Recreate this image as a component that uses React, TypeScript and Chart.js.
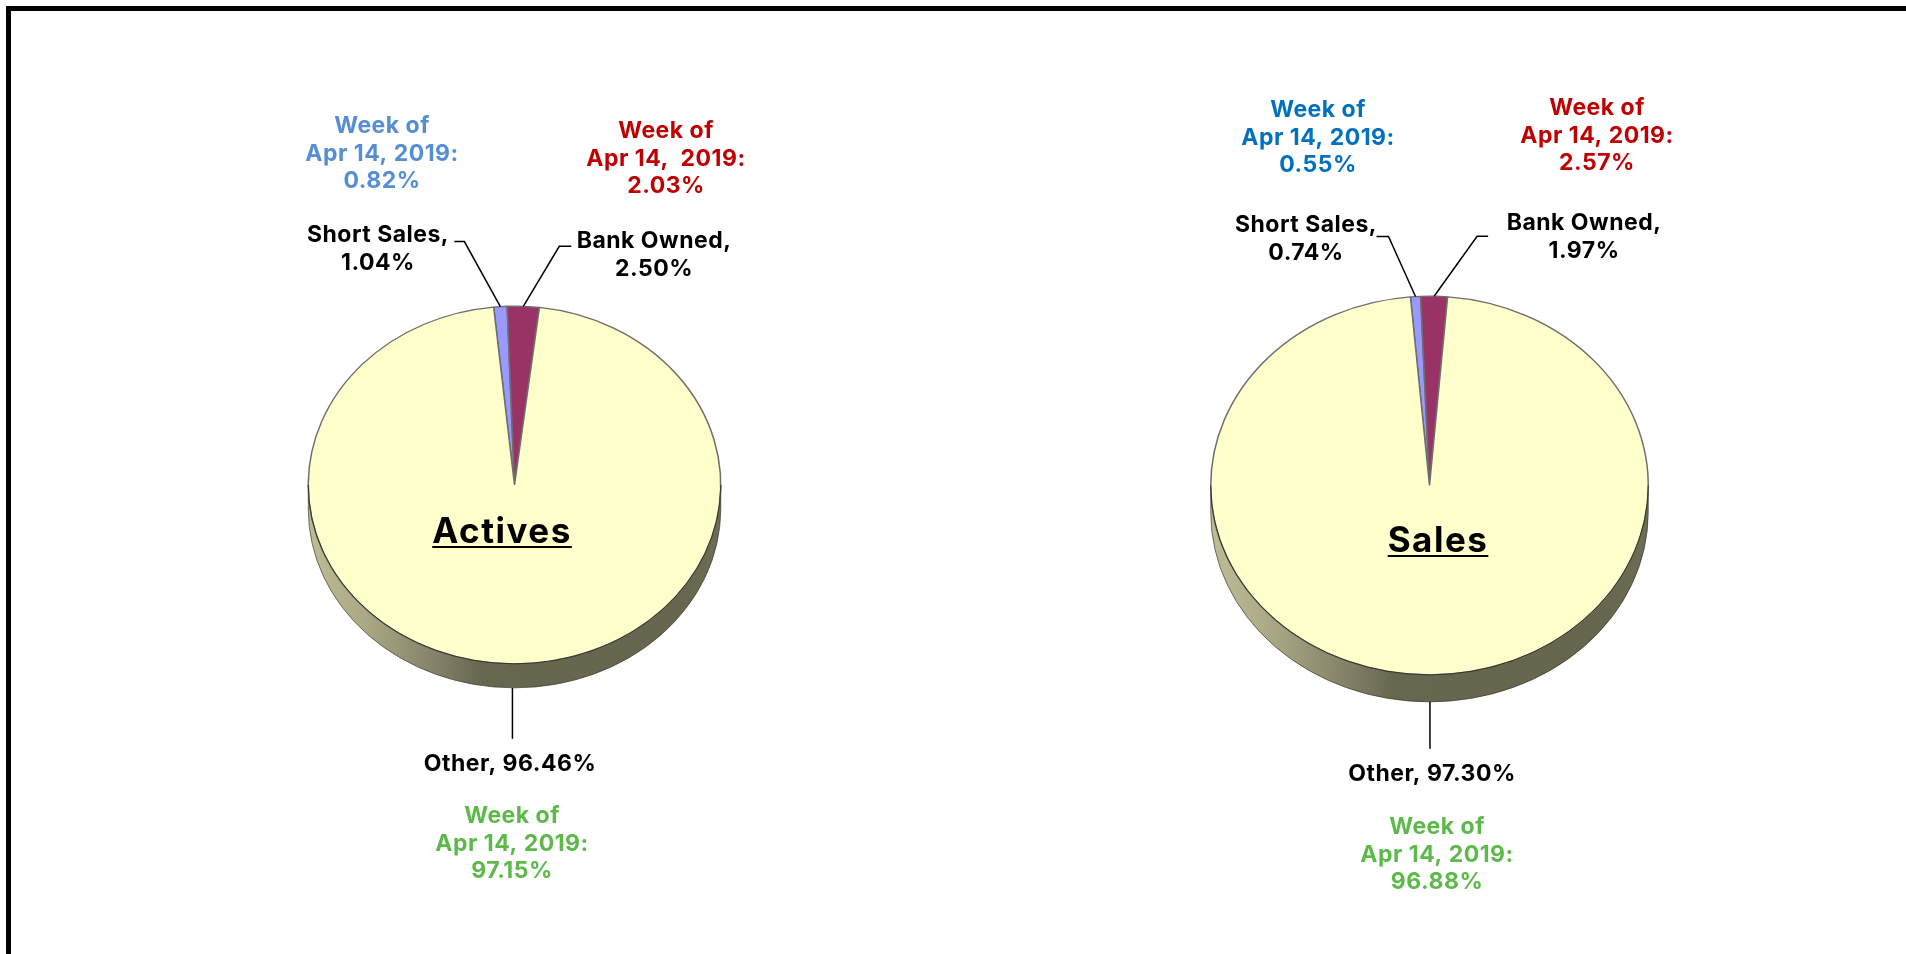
import React, { useEffect, useRef } from "react";
import { Chart, registerables } from "chart.js";

Chart.register(...registerables);

const categories = ["Short Sales", "Bank Owned", "Other"];
const activesValues = [1.04, 2.5, 96.46];
const salesValues = [0.74, 1.97, 97.3];
const activesWeek = ["0.82%", "2.03%", "97.15%"];
const salesWeek = ["0.55%", "2.57%", "96.88%"];
const weekDate = "Apr 14, 2019:";
const sliceColors = ["#9999ff", "#993366", "#ffffcc"];
const FONT = "Inter";

type Txt = { lines: string[]; x: number; y: number; color: string };

function pct(v: number) {
  return v.toFixed(2) + "%";
}

const activesLayout = {
  title: "Actives",
  titlePos: [502, 543],
  left: 0,
  cx: 514.5, cy: 485, rx: 207, ry: 179.5, depth: 24, rotation: -5.8,
  // [dx, dy of elbow from the slice edge, length of the horizontal stub]
  leaders: [[-36, -65, -10], [36, -60, 12]],
  otherLeader: 51,
  text: [
    { lines: ["Week of", weekDate, activesWeek[0]], x: 382, y: 133, color: "#558ed5" },
    { lines: ["Week of", "Apr 14,  2019:", activesWeek[1]], x: 666, y: 138, color: "#c00000" },
    { lines: [categories[0] + ",", pct(activesValues[0])], x: 378, y: 242, color: "#000" },
    { lines: [categories[1] + ",", pct(activesValues[1])], x: 654, y: 248, color: "#000" },
    { lines: [categories[2] + ", " + pct(activesValues[2])], x: 510, y: 771, color: "#000" },
    { lines: ["Week of", weekDate, activesWeek[2]], x: 512, y: 823, color: "#5cb94a" },
  ] as Txt[],
};

const salesLayout = {
  title: "Sales",
  titlePos: [1438, 552],
  left: 953,
  cx: 1429.5, cy: 485.5, rx: 219.5, ry: 190, depth: 27, rotation: -5,
  leaders: [[-27, -60, -12], [43, -60, 11]],
  otherLeader: 47,
  text: [
    { lines: ["Week of", weekDate, salesWeek[0]], x: 1318, y: 117, color: "#0070c0" },
    { lines: ["Week of", weekDate, salesWeek[1]], x: 1597, y: 115, color: "#c00000" },
    { lines: [categories[0] + ",", pct(salesValues[0])], x: 1306, y: 232, color: "#000" },
    { lines: [categories[1] + ",", pct(salesValues[1])], x: 1584, y: 230, color: "#000" },
    { lines: [categories[2] + ", " + pct(salesValues[2])], x: 1432, y: 781, color: "#000" },
    { lines: ["Week of", weekDate, salesWeek[2]], x: 1437, y: 834, color: "#5cb94a" },
  ] as Txt[],
};

const CW = 953;
const CH = 954;

function PieCanvas({ values, layout }: { values: number[]; layout: typeof activesLayout }) {
  const ref = useRef<HTMLCanvasElement>(null);
  useEffect(() => {
    const L = layout;
    const localCx = L.cx - L.left;
    const squash = L.ry / L.rx;
    const plugin = {
      id: "tilt",
      beforeDatasetsDraw(chart: any) {
        const ctx = chart.ctx;
        const arc = chart.getDatasetMeta(0).data[0];
        const { x, y, outerRadius: r } = arc;
        const ry = r * squash;
        // side wall of the disc, below the top face
        ctx.save();
        const g = ctx.createLinearGradient(x - r, 0, x + r, 0);
        g.addColorStop(0, "#bdbc96");
        g.addColorStop(0.12, "#aeac87");
        g.addColorStop(0.3, "#85846a");
        g.addColorStop(0.42, "#67674f");
        g.addColorStop(0.9, "#66664e");
        g.addColorStop(1, "#6e6e56");
        ctx.beginPath();
        ctx.ellipse(x, y, r, ry, 0, Math.PI, 0, true);
        ctx.lineTo(x + r, y + L.depth);
        ctx.ellipse(x, y + L.depth, r, ry, 0, 0, Math.PI, false);
        ctx.closePath();
        ctx.fillStyle = g;
        ctx.fill();
        ctx.strokeStyle = "rgba(50,50,36,0.8)";
        ctx.lineWidth = 0.8;
        ctx.stroke();
        ctx.restore();

        ctx.save();
        ctx.translate(x, y);
        ctx.scale(1, squash);
        ctx.translate(-x, -y);
      },
      afterDatasetsDraw(chart: any) {
        const ctx = chart.ctx;
        ctx.restore();
        const arcs = chart.getDatasetMeta(0).data;
        const { x, y, outerRadius: r } = arcs[0];
        const ry = r * squash;

        // dark rim on the lower half of the top face
        ctx.save();
        ctx.beginPath();
        ctx.ellipse(x, y, r, ry, 0, 0, Math.PI);
        ctx.strokeStyle = "rgba(45,45,30,0.9)";
        ctx.lineWidth = 1;
        ctx.stroke();
        ctx.restore();

        // leader lines, anchored at each slice's middle angle
        ctx.save();
        ctx.strokeStyle = "#000";
        ctx.lineWidth = 1.5;
        ctx.lineJoin = "miter";
        L.leaders.forEach((lead, i) => {
          const a = arcs[i];
          const mid = (a.startAngle + a.endAngle) / 2;
          const ax = x + r * Math.cos(mid);
          const ay = y + ry * Math.sin(mid);
          ctx.beginPath();
          ctx.moveTo(ax, ay);
          ctx.lineTo(ax + lead[0], ay + lead[1]);
          ctx.lineTo(ax + lead[0] + lead[2], ay + lead[1]);
          ctx.stroke();
        });
        const o = arcs[2];
        const mid = (o.startAngle + o.endAngle) / 2;
        const ox = x + r * Math.cos(mid);
        const oy = y + ry * Math.sin(mid) + L.depth;
        ctx.beginPath();
        ctx.moveTo(ox, oy);
        ctx.lineTo(ox, oy + L.otherLeader);
        ctx.stroke();
        ctx.restore();

        // text
        ctx.save();
        ctx.textAlign = "center";
        ctx.textBaseline = "alphabetic";
        ctx.font = `700 23px ${FONT}`;
        ctx.letterSpacing = "0.5px";
        L.text.forEach((t) => {
          ctx.fillStyle = t.color;
          t.lines.forEach((s, i) => ctx.fillText(s, t.x - L.left, t.y + i * 27.5));
        });
        ctx.fillStyle = "#000";
        ctx.font = `700 35px ${FONT}`;
        ctx.letterSpacing = "1.5px";
        const tx = L.titlePos[0] - L.left;
        const ty = L.titlePos[1];
        ctx.fillText(L.title, tx, ty);
        const w = ctx.measureText(L.title).width;
        ctx.fillRect(tx - w / 2, ty + 3, w, 2);
        ctx.restore();
      },
    };
    const chart = new Chart(ref.current!, {
      type: "pie",
      data: {
        labels: categories,
        datasets: [
          {
            data: values,
            backgroundColor: sliceColors,
            borderColor: "#6e6e6e",
            borderWidth: 1.5,
          },
        ],
      },
      options: {
        responsive: false,
        animation: false,
        events: [],
        rotation: L.rotation,
        layout: {
          padding: {
            left: localCx - L.rx,
            right: CW - localCx - L.rx,
            top: L.cy - L.rx,
            bottom: CH - L.cy - L.rx,
          },
        },
        plugins: { legend: { display: false }, tooltip: { enabled: false } },
      },
      plugins: [plugin],
    } as any);
    return () => chart.destroy();
  }, [values, layout]);
  return (
    <canvas
      ref={ref}
      width={CW}
      height={CH}
      style={{ position: "absolute", left: layout.left, top: 0, width: CW, height: CH }}
    />
  );
}

export default function App() {
  return (
    <div style={{ position: "fixed", inset: 0, background: "#fff", overflow: "hidden" }}>
      <PieCanvas values={activesValues} layout={activesLayout} />
      <PieCanvas values={salesValues} layout={salesLayout} />
      <div
        style={{
          position: "absolute",
          left: 6,
          top: 6,
          width: 1906,
          height: 954,
          borderTop: "5px solid #000",
          borderLeft: "5px solid #000",
        }}
      />
    </div>
  );
}
